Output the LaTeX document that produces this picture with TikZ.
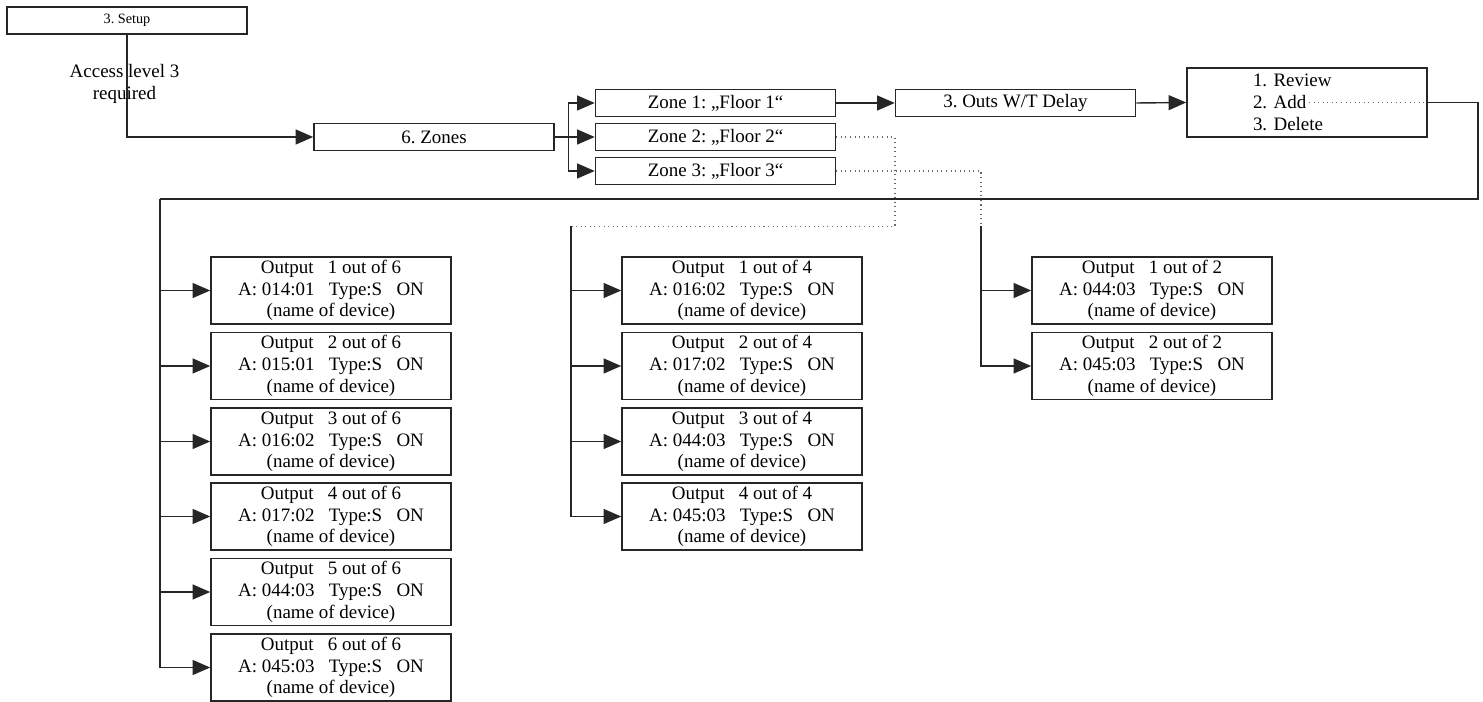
\documentclass[tikz,border=0pt]{standalone}
\usepackage{fontspec}
\setmainfont{Liberation Serif}
\usetikzlibrary{arrows.meta}
\frenchspacing

\begin{document}
\begin{tikzpicture}[
        box/.style={
            rectangle,
            draw=black!85,
            line width=0.9pt,
            align=center,
            minimum width=4.8cm,
            minimum height=0.54cm,
            font=\fontsize{10.8}{12.4}\selectfont,
            inner sep=0pt
        },
        outbox/.style={
            box,
            minimum height=1.34cm
        },
        arrow/.style={-{Triangle[length=10pt,width=8.5pt]}, line width=0.8pt, black!85},
        line/.style={line width=0.8pt, black!85},
        dotline/.style={dotted, line width=0.6pt, black!60}
    ]

        \useasboundingbox (0,0) rectangle (29.66,-14.04);

        % menu path
        \node[box, font=\fontsize{8.1}{9.7}\selectfont] (setup) at (2.54,-0.41) {3. Setup};
        \node[font=\fontsize{10.8}{12.4}\selectfont, align=center] (access) at (2.49,-1.68) {Access level 3\\required};
        \node[box] (zones) at (8.68,-2.74) {6. Zones};
        \node[box] (z1) at (14.31,-2.06) {Zone 1: „Floor 1“};
        \node[box] (z2) at (14.31,-2.74) {Zone 2: „Floor 2“};
        \node[box] (z3) at (14.31,-3.42) {Zone 3: „Floor 3“};
        \node[box] (outs) at (20.31,-2.06) {3. Outs W/T Delay};
        \node[box, minimum height=1.38cm, align=left, text width=2.16cm, inner xsep=1.32cm] (review) at (26.14,-2.05) {1. Review\\2. Add\\3. Delete};

        % outputs of zone 1
        \node[outbox] (a1) at (6.62,-5.81) {Output~~~1 out of 6\\A: 014:01~~~Type:S~~~ON\\(name of device)};
        \node[outbox] (a2) at (6.62,-7.32) {Output~~~2 out of 6\\A: 015:01~~~Type:S~~~ON\\(name of device)};
        \node[outbox] (a3) at (6.62,-8.83) {Output~~~3 out of 6\\A: 016:02~~~Type:S~~~ON\\(name of device)};
        \node[outbox] (a4) at (6.62,-10.33) {Output~~~4 out of 6\\A: 017:02~~~Type:S~~~ON\\(name of device)};
        \node[outbox] (a5) at (6.62,-11.84) {Output~~~5 out of 6\\A: 044:03~~~Type:S~~~ON\\(name of device)};
        \node[outbox] (a6) at (6.62,-13.35) {Output~~~6 out of 6\\A: 045:03~~~Type:S~~~ON\\(name of device)};

        % outputs of zone 2
        \node[outbox] (b1) at (14.84,-5.81) {Output~~~1 out of 4\\A: 016:02~~~Type:S~~~ON\\(name of device)};
        \node[outbox] (b2) at (14.84,-7.32) {Output~~~2 out of 4\\A: 017:02~~~Type:S~~~ON\\(name of device)};
        \node[outbox] (b3) at (14.84,-8.83) {Output~~~3 out of 4\\A: 044:03~~~Type:S~~~ON\\(name of device)};
        \node[outbox] (b4) at (14.84,-10.33) {Output~~~4 out of 4\\A: 045:03~~~Type:S~~~ON\\(name of device)};

        % outputs of zone 3
        \node[outbox] (c1) at (23.04,-5.81) {Output~~~1 out of 2\\A: 044:03~~~Type:S~~~ON\\(name of device)};
        \node[outbox] (c2) at (23.04,-7.32) {Output~~~2 out of 2\\A: 045:03~~~Type:S~~~ON\\(name of device)};

        % branch points
        \coordinate (tA) at (3.20,-3.98);
        \coordinate (tB) at (11.42,-4.53);
        \coordinate (tC) at (19.62,-4.53);
        \coordinate (kB) at (17.90,-4.53);

        \draw[arrow] (setup.south) |- (zones.west);
        \draw[arrow] (zones.east) -- ++(0.28,0) |- (z1.west);
        \draw[arrow] (zones.east) -- (z2.west);
        \draw[arrow] (zones.east) -- ++(0.28,0) |- (z3.west);
        \draw[arrow] (z1.east) -- (outs.west);
        \draw[arrow] (outs.east) -- (review.west);

        \draw[dotline] ([xshift=0.04cm]review.center) -- (review.east);
        \draw[dotline] (z2.east) -| (kB) -- (tB);
        \draw[dotline] (z3.east) -| (tC);

        \draw[line] (review.east) -- ++(1.0,0) |- (tA);

        \draw[arrow] (tA) |- (a1.west);
        \draw[arrow] (tA) |- (a2.west);
        \draw[arrow] (tA) |- (a3.west);
        \draw[arrow] (tA) |- (a4.west);
        \draw[arrow] (tA) |- (a5.west);
        \draw[arrow] (tA) |- (a6.west);

        \draw[arrow] (tB) |- (b1.west);
        \draw[arrow] (tB) |- (b2.west);
        \draw[arrow] (tB) |- (b3.west);
        \draw[arrow] (tB) |- (b4.west);

        \draw[arrow] (tC) |- (c1.west);
        \draw[arrow] (tC) |- (c2.west);

    \end{tikzpicture}
\end{document}
